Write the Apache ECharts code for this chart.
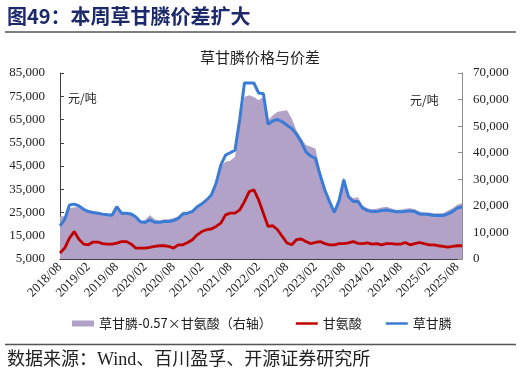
<!DOCTYPE html>
<html><head><meta charset="utf-8">
<script src="https://cdn.jsdelivr.net/npm/echarts@6/dist/echarts.min.js"></script>
<style>html,body{margin:0;padding:0;background:#fff}#c{width:521px;height:374px}</style>
</head><body><div id="c"></div>
<script>
const months = [
'2018/08','2018/09','2018/10','2018/11','2018/12',
'2019/01','2019/02','2019/03','2019/04','2019/05','2019/06','2019/07','2019/08','2019/09','2019/10','2019/11','2019/12',
'2020/01','2020/02','2020/03','2020/04','2020/05','2020/06','2020/07','2020/08','2020/09','2020/10','2020/11','2020/12',
'2021/01','2021/02','2021/03','2021/04','2021/05','2021/06','2021/07','2021/08','2021/09','2021/10','2021/11','2021/12',
'2022/01','2022/02','2022/03','2022/04','2022/05','2022/06','2022/07','2022/08','2022/09','2022/10','2022/11','2022/12',
'2023/01','2023/02','2023/03','2023/04','2023/05','2023/06','2023/07','2023/08','2023/09','2023/10','2023/11','2023/12',
'2024/01','2024/02','2024/03','2024/04','2024/05','2024/06','2024/07','2024/08','2024/09','2024/10','2024/11','2024/12',
'2025/01','2025/02','2025/03','2025/04','2025/05','2025/06','2025/07','2025/08','2025/09'
];
// 草甘膦 (left axis, 元/吨)
const glyphosate = [
19200,22000,28200,28600,27800,26400,25400,25000,24700,24300,24000,23800,27500,24700,24700,24400,23200,
21000,20700,21800,20800,20800,21100,21100,21500,22500,24400,24700,25400,
27500,28700,30400,32500,37500,45400,49700,50700,51800,65000,80700,80700,
80700,76400,76100,63000,64400,65000,64000,62500,61100,58700,55400,51100,
49300,48300,41100,34700,29700,25000,30000,39000,31800,29700,29700,26900,
25800,25400,25400,25800,26100,25700,25300,25300,25400,25700,25400,24400,
24300,24100,23700,23700,23700,24400,25400,26900,27500
];
// 甘氨酸 (left axis, 元/吨)
const glycine = [
7600,9700,14000,16800,13500,11400,11100,12300,12300,11600,11400,11400,11800,12500,12500,11500,9700,
9700,9700,10000,10400,10700,10700,10400,9700,11100,11100,12100,13300,
15400,16800,17600,17900,19000,20400,24000,24700,24700,26100,29700,34000,
34700,30400,24700,19000,19300,17600,14700,11900,11100,13300,13600,12500,
11600,12100,12500,11600,11100,11100,11600,11600,11900,12500,11700,11600,
11900,11400,11600,11100,11600,11600,11400,11400,12100,11100,11600,12100,
11600,11100,11100,10700,10400,10100,10400,10700,10700
];
// 草甘膦-0.57×甘氨酸 (right axis, 元/吨)
const spread = [
16000,16200,19100,19500,19500,18700,17800,17800,17500,17200,17000,16900,19700,17500,17500,17200,15400,
14100,14700,16600,15000,14400,15000,15000,15400,16000,17800,17800,18500,
19700,20000,21600,23500,27200,35000,36600,37000,38500,51000,61000,61600,
61000,59700,61000,52200,54100,55400,55700,56000,52900,48500,45400,42900,
42200,41600,33500,26600,22200,18500,23500,31000,24100,22900,23200,20000,
19100,18700,18900,19400,19700,19100,18500,18500,18900,19100,18700,17900,
17500,17500,17200,17200,17200,18200,19100,20400,21000
];
const leftMin = 5000, leftMax = 85000, leftStep = 10000;
const rightMin = 0, rightMax = 70000, rightStep = 10000;
const seriesNames = ['草甘膦-0.57×甘氨酸（右轴）', '甘氨酸', '草甘膦'];

const serif = 'Liberation Serif, Noto Sans CJK SC';
const cjk = 'Noto Sans CJK SC';
const fmt = v => v.toLocaleString('en-US');
const lineIcon = 'path://M0,0L44,0L44,5L0,5Z';

const chart = echarts.init(document.getElementById('c'));
chart.setOption({
  animation: false,
  grid: {left: 60, right: 59, top: 73, bottom: 115, containLabel: false},
  legend: {
    left: 72, top: 317, padding: 0, itemGap: 24, itemWidth: 22, itemHeight: 6,
    textStyle: {fontFamily: cjk, fontSize: 13, color: '#222'},
    data: [{name: seriesNames[0], icon: 'rect'}, {name: seriesNames[1], icon: lineIcon}, {name: seriesNames[2], icon: lineIcon}]
  },
  xAxis: {
    type: 'category', data: months, boundaryGap: false,
    axisLine: {lineStyle: {color: '#404040', width: 1}},
    axisTick: {inside: true, interval: 5, length: 4, lineStyle: {color: '#404040'}},
    axisLabel: {interval: 5, rotate: 45, fontFamily: serif, fontSize: 13, color: '#222', margin: 6}
  },
  yAxis: [
    {type: 'value', min: leftMin, max: leftMax, interval: leftStep,
     axisLine: {show: true, lineStyle: {color: '#404040'}},
     axisTick: {show: true, inside: true, length: 4, lineStyle: {color: '#404040'}},
     splitLine: {show: false},
     axisLabel: {formatter: fmt, fontFamily: serif, fontSize: 13, color: '#222', margin: 15}},
    {type: 'value', min: rightMin, max: rightMax, interval: rightStep, position: 'right',
     axisLine: {show: true, lineStyle: {color: '#8c8c8c'}},
     axisTick: {show: true, inside: true, length: 4, lineStyle: {color: '#8c8c8c'}},
     splitLine: {show: false},
     axisLabel: {formatter: fmt, fontFamily: serif, fontSize: 13, color: '#222', margin: 11}}
  ],
  series: [
    {name: seriesNames[0], type: 'line', yAxisIndex: 1, data: spread, symbol: 'none', z: 1,
     itemStyle: {color: '#b3a2c7'}, lineStyle: {width: 0, color: '#b3a2c7'},
     areaStyle: {color: '#b3a2c7', opacity: 1}},
    {name: seriesNames[1], type: 'line', yAxisIndex: 0, data: glycine, symbol: 'none', z: 3,
     itemStyle: {color: '#c00000'}, lineStyle: {width: 2.8, color: '#c00000'}},
    {name: seriesNames[2], type: 'line', yAxisIndex: 0, data: glyphosate, symbol: 'none', z: 4,
     itemStyle: {color: '#3a7bd5'}, lineStyle: {width: 3, color: '#3a7bd5'}}
  ],
  graphic: [
    {type: 'text', left: 7, top: 6, style: {text: '图49：本周草甘膦价差扩大', fontFamily: cjk, fontSize: 20, fontWeight: 'bold', fill: '#1c2a6b'}},
    {type: 'line', shape: {x1: 5, y1: 32, x2: 516, y2: 32}, style: {stroke: '#555', lineWidth: 1.5}},
    {type: 'text', x: 260, y: 57, style: {text: '草甘膦价格与价差', fontFamily: cjk, fontSize: 15, fill: '#222', align: 'center', verticalAlign: 'middle'}},
    {type: 'text', x: 68, y: 98, style: {text: '元/吨', fontFamily: cjk, fontSize: 12, fill: '#222', verticalAlign: 'middle'}},
    {type: 'text', x: 410, y: 100, style: {text: '元/吨', fontFamily: cjk, fontSize: 12, fill: '#222', verticalAlign: 'middle'}},
    {type: 'line', shape: {x1: 5, y1: 344.5, x2: 516, y2: 344.5}, style: {stroke: '#555', lineWidth: 1.5}},
    {type: 'text', x: 7, y: 360, style: {text: '数据来源：Wind、百川盈孚、开源证券研究所', fontFamily: serif, fontSize: 18, fill: '#222', verticalAlign: 'middle'}}
  ]
});
</script>
</body></html>
